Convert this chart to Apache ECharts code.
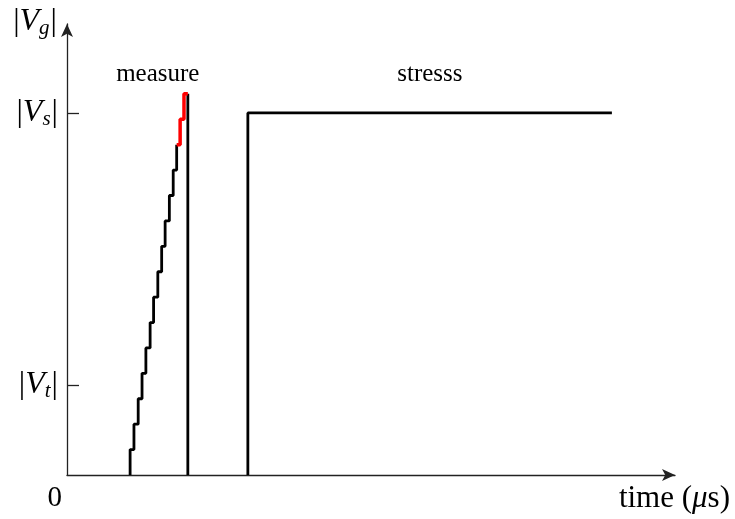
<!DOCTYPE html>
<html>
<head>
<meta charset="utf-8">
<script src="https://cdn.jsdelivr.net/npm/echarts@6/dist/echarts.min.js"></script>
<style>
html,body{margin:0;padding:0;background:#fff;}
#chart{width:735px;height:519px;}
</style>
</head>
<body>
<div id="chart"></div>
<script>
// ---- data (time in arbitrary units, voltage in step units) ----
const stairTimes  = [16.4, 17.4, 18.5, 19.5, 20.5, 21.6, 22.5, 23.6, 24.6, 25.5, 26.6, 27.6, 28.5, 29.4, 30.4];
const stairLevels = [1, 2, 3, 4, 5, 6, 7, 8, 9, 10, 11, 12, 13, 14, 15];
const redFromStep = 13;          // steps 13..15 drawn in red
const measureEnd  = 31.4;        // end of the measure phase
const stressStart = 47.0;
const stressEnd   = 141.6;
const VS = 14.25;                // |Vs|
const VT = 3.54;                 // |Vt|
const yTickValues = [VT, VS];
const yTickLabels = ['|{v|V}{s|t}|', '|{v|V}{s|s}|'];
const xMax = 158, yMax = 17.75;
const annotations = [['measure', 23.6, 15.75], ['stresss', 94.3, 15.75]];

// build series data
const blackStairs = [[stairTimes[0], 0]];
for (let i = 0; i < redFromStep; i++) blackStairs.push([stairTimes[i], stairLevels[i]]);
const redStairs = [];
for (let i = redFromStep - 1; i < stairTimes.length; i++) redStairs.push([stairTimes[i], stairLevels[i]]);
const topLevel = stairLevels[stairLevels.length - 1];
redStairs.push([measureEnd, topLevel]);
const measureDrop = [[measureEnd, topLevel], [measureEnd, 0]];
const stressPulse = [[stressStart, 0], [stressStart, VS], [stressEnd, VS]];

const FONT = '"Liberation Serif", "DejaVu Serif", serif';
const rich = {
  v: {fontFamily: FONT, fontStyle: 'italic', fontSize: 32, color: '#000'},
  s: {fontFamily: FONT, fontStyle: 'italic', fontSize: 21, color: '#000', padding: [13, 1, 0, 0]},
  m: {fontFamily: FONT, fontStyle: 'italic', fontSize: 31, color: '#000'}
};

const chart = echarts.init(document.getElementById('chart'), null, {renderer: 'canvas'});
chart.setOption({
  animation: false,
  backgroundColor: '#fff',
  grid: {left: 67, right: 60, top: 24, bottom: 44},
  xAxis: {
    type: 'value', min: 0, max: xMax,
    splitLine: {show: false},
    axisTick: {show: false},
    axisLine: {lineStyle: {color: '#222', width: 1.3}, symbol: ['none', 'arrow'], symbolSize: [9, 13]},
    axisLabel: {customValues: [0], formatter: () => '0', fontFamily: FONT, fontSize: 29, color: '#000',
                align: 'right', padding: [0, 5, 0, 0], margin: 9},
    name: 'time ({m|μ}s)',
    nameLocation: 'end', nameGap: 55,
    nameTextStyle: {fontFamily: FONT, fontSize: 31, color: '#000', align: 'right', verticalAlign: 'top',
                    padding: [8, 0, 0, 0], rich: rich}
  },
  yAxis: {
    type: 'value', min: 0, max: yMax,
    splitLine: {show: false},
    axisLine: {lineStyle: {color: '#222', width: 1.3}, symbol: ['none', 'arrow'], symbolSize: [9, 13]},
    axisTick: {inside: true, length: 12, customValues: yTickValues, lineStyle: {color: '#222', width: 1.3}},
    axisLabel: {customValues: yTickValues,
                formatter: (v) => yTickLabels[yTickValues.indexOf(v)],
                fontFamily: FONT, fontSize: 32, color: '#000', margin: 9, rich: rich},
    name: '|{v|V}{s|g}|',
    nameLocation: 'end', nameGap: 2,
    nameTextStyle: {fontFamily: FONT, fontSize: 32, color: '#000', align: 'right', verticalAlign: 'middle',
                    padding: [0, 10, 0, 0], rich: rich}
  },
  series: [
    {type: 'line', data: blackStairs, step: 'end', symbol: 'none', lineStyle: {color: '#000', width: 2.8},
     markPoint: {symbol: 'circle', symbolSize: 0, silent: true,
       label: {show: true, position: 'inside', fontFamily: FONT, fontSize: 25, color: '#000',
               formatter: (p) => p.name},
       data: annotations.map(a => ({name: a[0], coord: [a[1], a[2]]}))}},
    {type: 'line', data: measureDrop, symbol: 'none', lineStyle: {color: '#000', width: 2.8}},
    {type: 'line', data: redStairs, step: 'end', symbol: 'none', lineStyle: {color: '#ff0000', width: 3.5}},
    {type: 'line', data: stressPulse, symbol: 'none', lineStyle: {color: '#000', width: 2.8}}
  ]
});
</script>
</body>
</html>
